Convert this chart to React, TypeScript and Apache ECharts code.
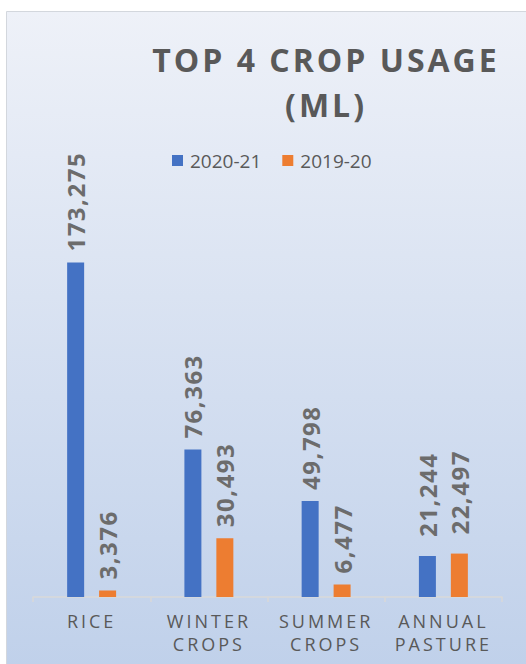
import React, { useEffect, useRef } from "react";
import * as echarts from "echarts";

const categories = ["RICE", "WINTER\nCROPS", "SUMMER\nCROPS", "ANNUAL\nPASTURE"];
const seriesNames = ["2020-21", "2019-20"];
const values2021 = [173275, 76363, 49798, 21244];
const values1920 = [3376, 30493, 6477, 22497];
const titleText = "TOP 4 CROP USAGE\n(ML)";

const TEXT = "#595959";
const LABEL = "#6c6c6c";
const FONT = "'Open Sans', 'Noto Sans', sans-serif";

export default function App() {
  const ref = useRef<HTMLDivElement>(null);
  useEffect(() => {
    const chart = echarts.init(ref.current!, null, { renderer: "svg" });
    const fmt = (p: any) => Number(p.value).toLocaleString("en-US");
    const label = {
      show: true,
      position: "top",
      rotate: 90,
      align: "left",
      verticalAlign: "middle",
      distance: 11,
      color: LABEL,
      fontSize: 24,
      fontWeight: "bold",
      fontFamily: FONT,
      formatter: fmt,
    };
    // the last category's labels sit a little higher in the reference
    const withLift = (vals: number[]) =>
      vals.map((v, i) => (i === vals.length - 1 ? { value: v, label: { distance: 19 } } : v));
    chart.setOption({
      animation: false,
      graphic: [
        {
          type: "rect",
          z: -10,
          silent: true,
          shape: { x: 6.5, y: 11.5, width: 530, height: 670 },
          style: {
            fill: new echarts.graphic.LinearGradient(0, 0, 0, 1, [
              { offset: 0, color: "#eef1f8" },
              { offset: 1, color: "#bfd0ea" },
            ]),
            stroke: "#d3d7dd",
            lineWidth: 1,
          },
        },
        {
          type: "text",
          x: 326,
          y: 37,
          style: {
            text: titleText,
            textAlign: "center",
            textVerticalAlign: "top",
            fill: TEXT,
            font: `bold 32px ${FONT}`,
            lineHeight: 45,
          },
        },
      ],
      legend: {
        data: seriesNames,
        left: 172,
        top: 151,
        padding: 0,
        icon: "rect",
        itemWidth: 11,
        itemHeight: 11,
        itemGap: 21,
        textStyle: { color: TEXT, fontSize: 19, fontFamily: FONT, padding: [0, 0, 0, 2] },
      },
      grid: { left: 33, right: 24, top: 211, bottom: 67 },
      xAxis: {
        type: "category",
        data: categories,
        axisLine: { lineStyle: { color: "#d9d9d9", width: 1.5 } },
        axisTick: { show: true, length: 5, lineStyle: { color: "#d9d9d9", width: 1.5 } },
        axisLabel: {
          interval: 0,
          margin: 12,
          color: TEXT,
          fontSize: 18,
          fontFamily: FONT,
          lineHeight: 23,
        },
      },
      yAxis: {
        type: "value",
        min: 0,
        max: 200000,
        show: false,
        splitLine: { show: false },
      },
      series: [
        {
          name: seriesNames[0],
          type: "bar",
          data: withLift(values2021),
          barWidth: 17,
          barGap: "88%",
          itemStyle: { color: "#4472c4" },
          label,
        },
        {
          name: seriesNames[1],
          type: "bar",
          data: withLift(values1920),
          barWidth: 17,
          itemStyle: { color: "#ed7d31" },
          label,
        },
      ],
    });
    return () => chart.dispose();
  }, []);
  return (
    <div style={{ position: "absolute", left: 0, top: 0, width: 526, height: 664, background: "#fff" }}>
      <style>{`
        #chartbox text[style*="18px"] { letter-spacing: 3px; }
        #chartbox text[style*="32px"] { letter-spacing: 3px; }
        #chartbox text[style*="24px"] { letter-spacing: 1.5px; }
      `}</style>
      <div id="chartbox" ref={ref} style={{ width: 526, height: 664 }} />
    </div>
  );
}
